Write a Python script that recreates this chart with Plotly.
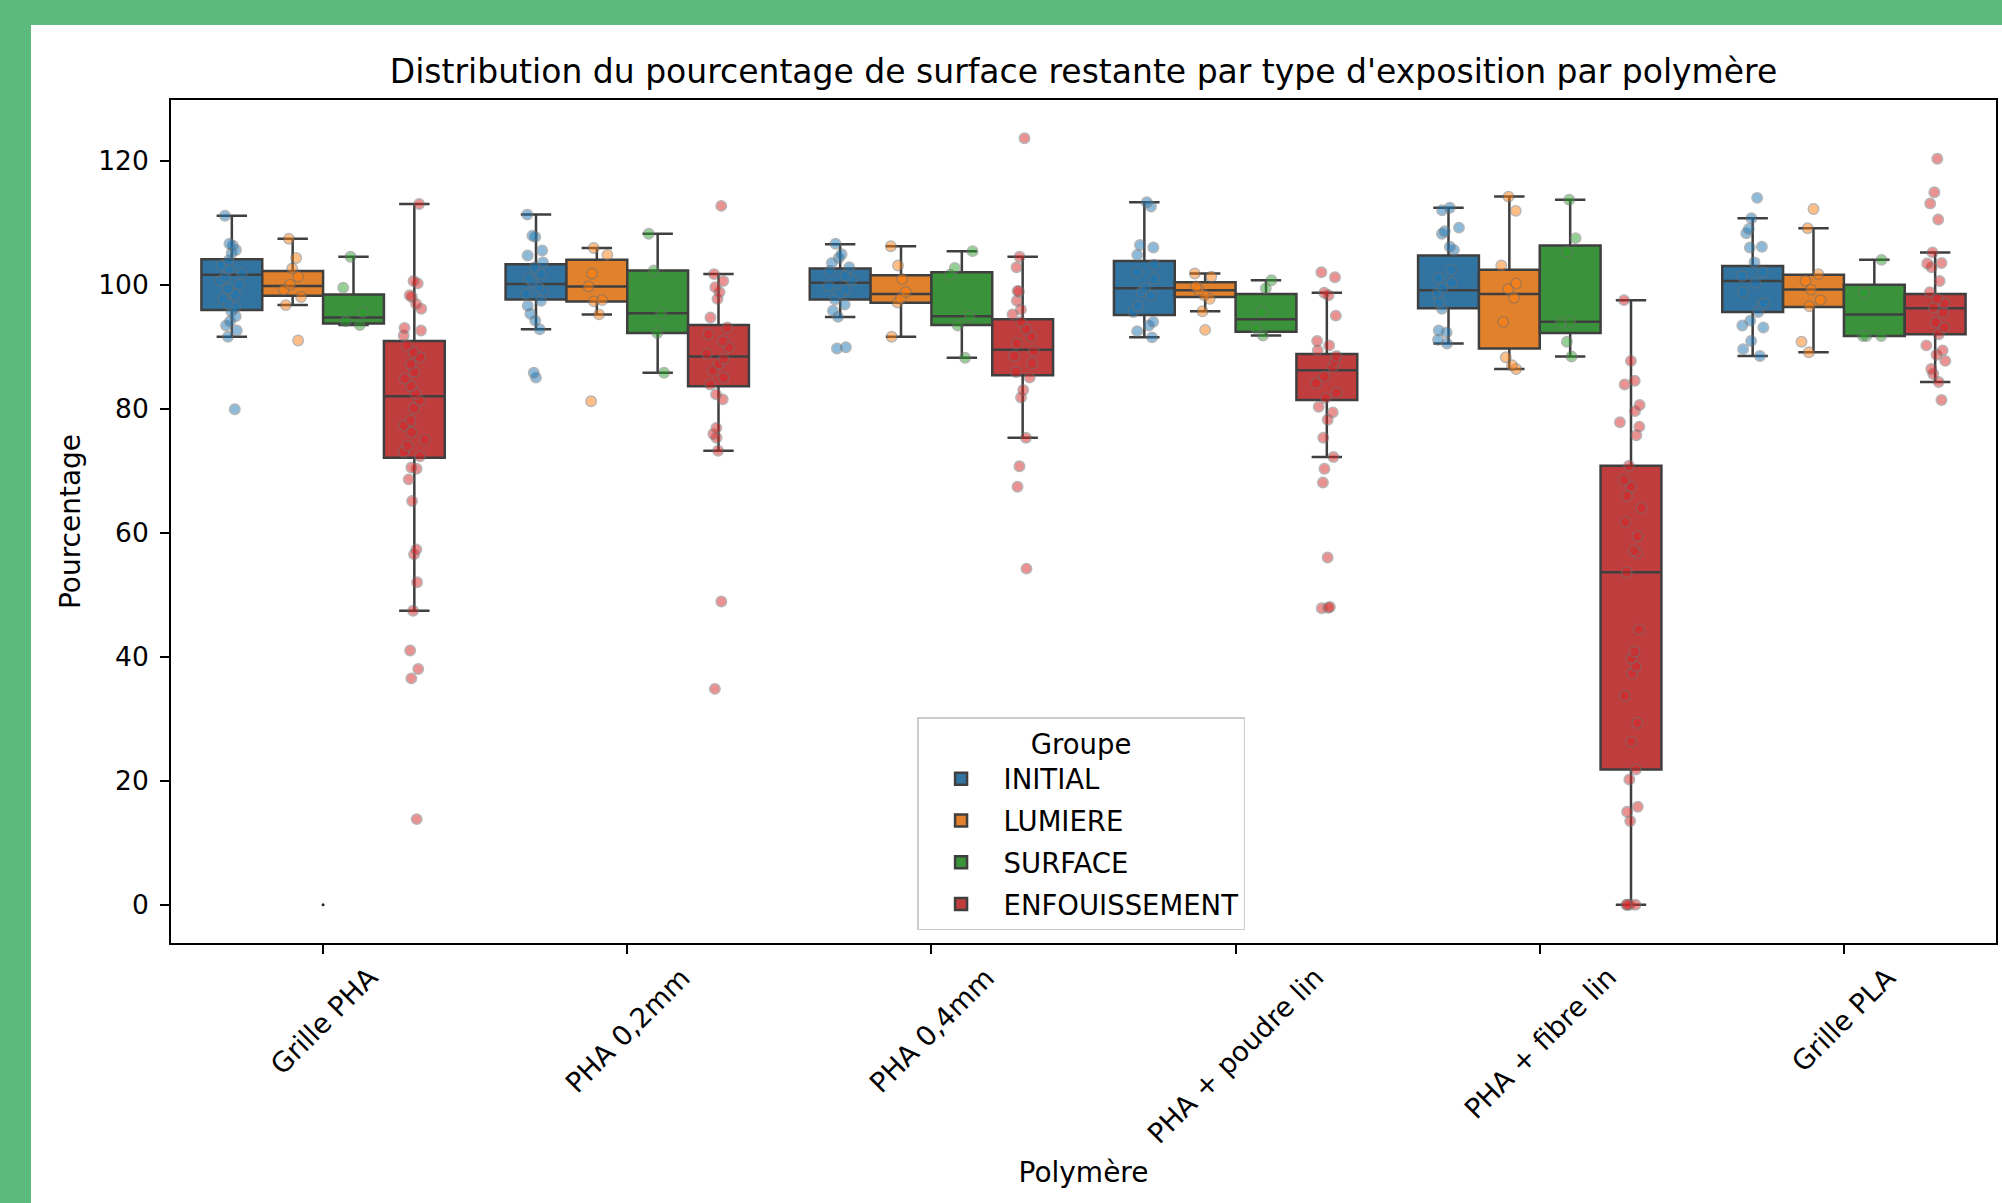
import plotly.graph_objects as go

# ---------------- data ----------------
categories = ["Grille PHA", "PHA 0,2mm", "PHA 0,4mm", "PHA + poudre lin", "PHA + fibre lin", "Grille PLA"]
groups = ["INITIAL", "LUMIERE", "SURFACE", "ENFOUISSEMENT"]

# box statistics (one value per category)
initial_q1 = [95.9, 97.6, 97.6, 95.1, 96.2, 95.6]
initial_med = [101.6, 100.1, 100.3, 99.4, 99.1, 100.6]
initial_q3 = [104.1, 103.3, 102.6, 103.8, 104.7, 103.0]
initial_lo = [91.6, 92.8, 94.8, 91.5, 90.5, 88.5]
initial_hi = [111.1, 111.3, 106.5, 113.3, 112.4, 110.7]

lumiere_q1 = [98.2, 97.3, 97.1, 98.0, 89.7, 96.4]
lumiere_med = [99.8, 99.7, 98.5, 99.1, 98.5, 99.2]
lumiere_q3 = [102.2, 104.0, 101.5, 100.4, 102.4, 101.6]
lumiere_lo = [96.7, 95.2, 91.6, 95.7, 86.4, 89.1]
lumiere_hi = [107.4, 105.9, 106.2, 101.8, 114.2, 109.1]

surface_q1 = [93.75, 92.2, 93.5, 92.4, 92.2, 91.7]
surface_med = [94.7, 95.4, 94.9, 94.4, 94.0, 95.2]
surface_q3 = [98.4, 102.3, 102.0, 98.5, 106.3, 100.0]
surface_lo = [93.5, 85.8, 88.2, 91.8, 88.4, 91.7]
surface_hi = [104.5, 108.2, 105.4, 100.7, 113.7, 104.0]

enfouis_q1 = [72.1, 83.6, 85.4, 81.4, 21.8, 92.0]
enfouis_med = [82.0, 88.4, 89.5, 86.2, 53.6, 96.2]
enfouis_q3 = [90.9, 93.5, 94.4, 88.8, 70.8, 98.5]
enfouis_lo = [47.4, 73.2, 75.3, 72.2, 0.0, 84.3]
enfouis_hi = [113.0, 101.7, 104.5, 98.7, 97.5, 105.2]

# individual measurements (strip points), one list per category
initial_pts = [
    [111.1, 106.6, 106.3, 105.6, 105.1, 103.9, 103.1, 102.5, 101.8, 101.2, 100.6, 100.0, 99.3, 98.4, 97.7, 96.9, 96.3, 95.7, 94.9, 94.1, 93.4, 92.6, 91.6, 79.9],
    [111.3, 107.9, 107.7, 105.5, 104.7, 103.6, 102.8, 101.7, 101.0, 100.4, 99.6, 99.0, 98.5, 97.4, 96.6, 95.3, 94.2, 92.8, 85.8, 85.0],
    [106.6, 104.9, 104.3, 103.5, 102.8, 102.2, 101.4, 100.7, 99.8, 99.2, 98.6, 97.6, 96.8, 95.8, 94.8, 89.9, 89.7],
    [113.3, 112.6, 106.4, 106.0, 104.8, 103.2, 102.0, 100.9, 99.4, 98.8, 98.2, 96.5, 95.6, 94.0, 93.4, 92.5, 91.5],
    [112.4, 112.0, 109.2, 108.6, 108.2, 106.1, 105.6, 102.4, 101.1, 100.3, 99.4, 98.6, 97.1, 96.1, 92.6, 92.3, 91.1, 90.5],
    [114.0, 110.7, 109.0, 108.3, 106.1, 106.0, 103.6, 102.0, 101.4, 100.3, 98.8, 97.0, 96.7, 95.6, 94.2, 93.4, 93.1, 90.9, 89.6, 88.5],
]
lumiere_pts = [
    [107.4, 104.3, 102.6, 101.3, 100.0, 99.2, 98.0, 96.7, 91.0],
    [105.9, 104.8, 101.8, 99.7, 97.5, 97.3, 95.2, 81.2],
    [106.2, 103.1, 100.9, 98.8, 97.8, 97.1, 91.6],
    [101.8, 101.3, 99.7, 99.1, 98.3, 97.7, 95.7, 92.7],
    [114.2, 111.9, 103.1, 100.2, 99.3, 97.9, 94.0, 88.3, 87.0, 86.4],
    [112.2, 109.1, 101.7, 100.6, 99.2, 97.5, 96.5, 90.8, 89.1],
]
surface_pts = [
    [104.5, 99.5, 95.5, 94.1, 93.5],
    [108.2, 102.3, 95.4, 92.2, 85.8],
    [105.4, 102.7, 101.6, 94.9, 93.4, 88.2],
    [100.7, 99.4, 95.6, 93.0, 91.8],
    [113.7, 107.5, 105.3, 94.0, 93.8, 90.8, 88.4],
    [104.0, 98.7, 91.7, 91.7, 91.7],
]
enfouis_pts = [
    [113.0, 100.6, 100.2, 98.3, 98.0, 96.9, 96.1, 93.0, 92.6, 91.8, 90.2, 89.1, 88.3, 87.1, 85.9, 84.8, 83.6, 82.4, 81.3, 80.1, 78.1, 77.3, 76.2, 75.0, 74.0, 73.0, 72.3, 70.5, 70.3, 68.6, 65.1, 57.3, 56.5, 52.0, 47.4, 41.0, 38.0, 36.5, 13.8],
    [112.7, 101.7, 100.6, 99.6, 98.8, 97.7, 94.7, 93.1, 92.0, 90.9, 89.9, 88.8, 88.0, 87.2, 86.1, 85.0, 83.9, 82.3, 81.5, 76.9, 75.9, 75.3, 73.2, 48.9, 34.8],
    [123.6, 104.5, 102.8, 99.0, 98.9, 97.4, 96.0, 95.2, 94.0, 92.8, 91.6, 90.5, 89.3, 88.5, 87.3, 85.9, 85.0, 83.0, 81.8, 75.3, 70.7, 67.4, 54.2],
    [102.0, 101.2, 98.7, 98.3, 95.0, 90.9, 90.2, 89.4, 88.5, 87.6, 86.7, 85.2, 84.1, 82.6, 81.7, 80.3, 79.4, 78.2, 75.3, 72.2, 70.3, 68.1, 56.0, 48.0, 47.9, 47.8],
    [97.5, 87.7, 84.5, 83.9, 80.6, 79.6, 77.8, 77.1, 75.7, 70.8, 68.5, 67.4, 65.9, 64.0, 61.7, 59.4, 57.1, 56.7, 53.6, 44.4, 40.8, 39.7, 38.4, 37.3, 33.7, 29.3, 26.3, 21.8, 20.2, 15.8, 15.0, 13.5, 0.0, 0.0, 0.0, 0.0],
    [120.3, 114.9, 113.1, 110.5, 105.2, 103.5, 103.4, 102.8, 100.6, 98.8, 97.7, 97.0, 96.3, 95.5, 93.9, 93.1, 92.0, 90.2, 89.4, 88.7, 87.7, 86.4, 85.6, 84.3, 81.4],
]

# stray flier visible at the centre of the first category
stray_cat = ["Grille PHA"]
stray_val = [0.0]

y_ticks = [0, 20, 40, 60, 80, 100, 120]

# ---------------- styling ----------------
box_fill = ["#3274a1", "#e1812c", "#3a923a", "#c03d3e"]
pt_color = ["#1f77b4", "#ff7f0e", "#2ca02c", "#d62728"]
edge = "#3f3f3f"
FONT = "DejaVu Sans"

stats = [
    (initial_q1, initial_med, initial_q3, initial_lo, initial_hi, initial_pts),
    (lumiere_q1, lumiere_med, lumiere_q3, lumiere_lo, lumiere_hi, lumiere_pts),
    (surface_q1, surface_med, surface_q3, surface_lo, surface_hi, surface_pts),
    (enfouis_q1, enfouis_med, enfouis_q3, enfouis_lo, enfouis_hi, enfouis_pts),
]

fig = go.Figure()

# boxes
for g, (q1, med, q3, lo, hi, _) in enumerate(stats):
    fig.add_trace(go.Box(
        name=groups[g], x=categories, q1=q1, median=med, q3=q3,
        lowerfence=lo, upperfence=hi,
        boxpoints=False, fillcolor=box_fill[g],
        line=dict(color=edge, width=2.5), whiskerwidth=0.5,
        offsetgroup=groups[g], legendgroup=groups[g],
        hoverinfo="skip",
    ))

# strip points drawn on top
for g, (_, _, _, _, _, pts) in enumerate(stats):
    xs, ys = [], []
    for c, vals in zip(categories, pts):
        xs += [c] * len(vals)
        ys += vals
    fig.add_trace(go.Box(
        name=groups[g], x=xs, y=ys,
        boxpoints="all", jitter=0.4, pointpos=0,
        fillcolor="rgba(0,0,0,0)", line=dict(color="rgba(0,0,0,0)", width=0),
        marker=dict(color=pt_color[g], size=10.5, opacity=0.5,
                    line=dict(color="#707070", width=1.4)),
        offsetgroup=groups[g], legendgroup=groups[g], showlegend=False,
        hoverinfo="y",
    ))

fig.add_trace(go.Scatter(
    x=stray_cat, y=stray_val, mode="markers",
    marker=dict(color="#222222", size=3), showlegend=False, hoverinfo="skip",
))

# rotated category labels, centred on their ticks (matplotlib style)
annotations = []
for c in categories:
    annotations.append(dict(
        x=c, xref="x", y=-0.018, yref="paper", text=c, textangle=-45,
        xanchor="center", yanchor="top", showarrow=False,
        font=dict(family=FONT, size=27.5, color="black"),
    ))

fig.update_layout(
    width=2002, height=1203,
    margin=dict(l=171, r=6, t=100, b=260, autoexpand=False),
    paper_bgcolor="#5cba7d", plot_bgcolor="white",
    template="none",
    boxmode="group", boxgap=0.2, boxgroupgap=0,
    font=dict(family=FONT, size=26, color="black"),
    title=dict(
        text="Distribution du pourcentage de surface restante par type d'exposition par polymère",
        x=0.5, xref="paper", xanchor="center",
        y=1 - 71 / 1203, yref="container", yanchor="middle",
        font=dict(family=FONT, size=33, color="black"),
    ),
    shapes=[dict(type="rect", xref="paper", yref="paper",
                 x0=-0.0767, x1=1.01, y0=-0.35, y1=1.089,
                 fillcolor="white", line=dict(width=0), layer="below")],
    annotations=annotations,
    legend=dict(
        x=0.4088, y=0.268, xanchor="left", yanchor="top",
        bgcolor="rgba(255,255,255,0.85)", bordercolor="#cccccc", borderwidth=1.5,
        font=dict(family=FONT, size=27.5, color="black"),
        title=dict(text="Groupe", side="top center", font=dict(family=FONT, size=27.5)),
        itemwidth=75, tracegroupgap=3,
    ),
    xaxis=dict(
        type="category", categoryorder="array", categoryarray=categories,
        range=[-0.5, 5.5], showticklabels=False,
        ticks="outside", ticklen=9, tickwidth=1.8, tickcolor="black",
        showline=True, linecolor="black", linewidth=1.8, mirror=True,
        showgrid=False, zeroline=False, automargin=False,
        title=dict(text="Polymère", standoff=209, font=dict(family=FONT, size=28)),
    ),
    yaxis=dict(
        range=[-6.18, 129.78], tickvals=y_ticks,
        ticks="outside", ticklen=9, tickwidth=1.8, tickcolor="black",
        ticklabelstandoff=6,
        showline=True, linecolor="black", linewidth=1.8, mirror=True,
        showgrid=False, zeroline=False, automargin=False,
        tickfont=dict(family=FONT, size=26.5),
        title=dict(text="Pourcentage", standoff=9, font=dict(family=FONT, size=28)),
    ),
)

fig.write_html("out.html", config={"displayModeBar": False},
               post_script="document.body.style.margin='0';")
